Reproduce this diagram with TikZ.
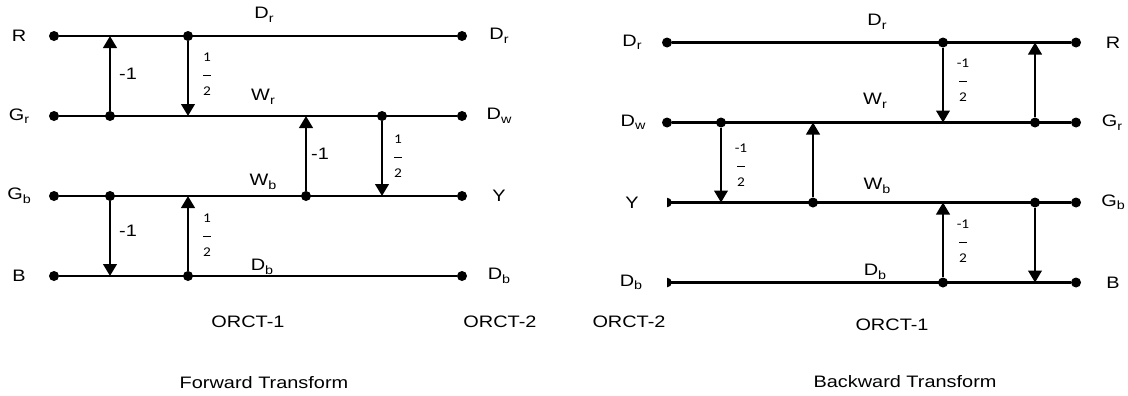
\documentclass[tikz,border=0pt]{standalone}
\usepackage{fontspec}
\setmainfont{Liberation Sans}[FakeStretch=1.2]
\newfontfamily\fracfont{Carlito}[FakeStretch=1.15]
\usetikzlibrary{arrows.meta}
\newcommand{\lsub}[1]{\raisebox{-0.4ex}{\fontsize{8.5}{8.5}\selectfont #1}}
\newcommand{\fbar}{\rule[0.45ex]{5.5pt}{0.6pt}}

\begin{document}
\begin{tikzpicture}[
        x=0.025cm, y=-0.025cm,
        wire/.style={line width=1.6pt},
        dot/.style={circle, fill=black, inner sep=0pt, minimum size=0.25cm},
        lift/.style={line width=1.6pt, -{Triangle[width=0.34cm, length=0.3cm]}},
        lab/.style={font=\fontsize{11.8}{13}\selectfont, inner sep=0pt},
        frac/.style={font=\fracfont\fontsize{9.5}{12.1}\selectfont, align=center, inner sep=0pt}
    ]
        \useasboundingbox (0,0) rectangle (1128,395);
        \node[dot] (fR) at (54,36) {};
        \node[dot] (fGr) at (54,116) {};
        \node[dot] (fGb) at (54,196) {};
        \node[dot] (fB) at (54,276) {};
        \node[dot] (fDr) at (462,36) {};
        \node[dot] (fDw) at (462,116) {};
        \node[dot] (fY) at (462,196) {};
        \node[dot] (fDb) at (462,276) {};
        \draw[wire] (fR) -- (fDr);
        \draw[wire] (fGr) -- (fDw);
        \draw[wire] (fGb) -- (fY);
        \draw[wire] (fB) -- (fDb);
        \node[lab] (fRt) at (19,36) {R};
        \node[lab] (fGrt) at (19,116) {G\lsub{r}};
        \node[lab] (fGbt) at (19,196) {G\lsub{b}};
        \node[lab] (fBt) at (19,276) {B};
        \node[lab] (fDrt) at (499,36) {D\lsub{r}};
        \node[lab] (fDwt) at (499,116) {D\lsub{w}};
        \node[lab] (fYt) at (499,196) {Y};
        \node[lab] (fDbt) at (499,276) {D\lsub{b}};
        \node[dot] (fu1) at (110,116) {};
        \coordinate (fu1e) at (110,36);
        \node[dot] (fu2) at (188,36) {};
        \coordinate (fu2e) at (188,116);
        \node[dot] (fu3) at (306,196) {};
        \coordinate (fu3e) at (306,116);
        \node[dot] (fu4) at (382,116) {};
        \coordinate (fu4e) at (382,196);
        \node[dot] (fu5) at (110,196) {};
        \coordinate (fu5e) at (110,276);
        \node[dot] (fu6) at (188,276) {};
        \coordinate (fu6e) at (188,196);
        \draw[lift] (fu1) -- (fu1e);
        \draw[lift] (fu2) -- (fu2e);
        \draw[lift] (fu3) -- (fu3e);
        \draw[lift] (fu4) -- (fu4e);
        \draw[lift] (fu5) -- (fu5e);
        \draw[lift] (fu6) -- (fu6e);
        \node[lab] (fw1) at (128,74) {-1};
        \node[frac] (fw2) at (207,74) {1\\\fbar\\2};
        \node[lab] (fw3) at (320,154) {-1};
        \node[frac] (fw4) at (398,156) {1\\\fbar\\2};
        \node[lab] (fw5) at (128,231) {-1};
        \node[frac] (fw6) at (207,235) {1\\\fbar\\2};
        \node[lab] (fsDr) at (264,15) {D\lsub{r}};
        \node[lab] (fsWr) at (263,97) {W\lsub{r}};
        \node[lab] (fsWb) at (263,182) {W\lsub{b}};
        \node[lab] (fsDb) at (262,267) {D\lsub{b}};
        \node[lab] (fo1) at (248,322) {ORCT-1};
        \node[lab] (fo2) at (500,322) {ORCT-2};
        \node[lab] (ftitle) at (264,383) {Forward Transform};
        \node[dot] (bDr) at (667,42.5) {};
        \node[dot] (bDw) at (667,122.5) {};
        \coordinate (bY) at (667,202.5);
        \coordinate (bDb) at (667,282.5);
        \fill (bY) ++(0,4.8) arc[start angle=-90, end angle=90, radius=0.12cm] -- cycle;
        \fill (bDb) ++(0,4.8) arc[start angle=-90, end angle=90, radius=0.12cm] -- cycle;
        \node[dot] (bR) at (1076,42.5) {};
        \node[dot] (bGr) at (1076,122.5) {};
        \node[dot] (bGb) at (1076,202.5) {};
        \node[dot] (bB) at (1076,282.5) {};
        \draw[wire] (bDr) -- (bR);
        \draw[wire] (bDw) -- (bGr);
        \draw[wire] (bY) -- (bGb);
        \draw[wire] (bDb) -- (bB);
        \node[lab] (bDrt) at (632,42.5) {D\lsub{r}};
        \node[lab] (bDwt) at (633,122.5) {D\lsub{w}};
        \node[lab] (bYt) at (632,202.5) {Y};
        \node[lab] (bDbt) at (631,282.5) {D\lsub{b}};
        \node[lab] (bRt) at (1113,42.5) {R};
        \node[lab] (bGrt) at (1112,122.5) {G\lsub{r}};
        \node[lab] (bGbt) at (1113,202.5) {G\lsub{b}};
        \node[lab] (bBt) at (1113,282.5) {B};
        \node[dot] (bu1) at (943,42.5) {};
        \coordinate (bu1e) at (943,122.5);
        \node[dot] (bu2) at (1035,122.5) {};
        \coordinate (bu2e) at (1035,42.5);
        \node[dot] (bu3) at (721,122.5) {};
        \coordinate (bu3e) at (721,202.5);
        \node[dot] (bu4) at (813,202.5) {};
        \coordinate (bu4e) at (813,122.5);
        \node[dot] (bu5) at (943,282.5) {};
        \coordinate (bu5e) at (943,202.5);
        \node[dot] (bu6) at (1035,202.5) {};
        \coordinate (bu6e) at (1035,282.5);
        \draw[lift] (bu1) -- (bu1e);
        \draw[lift] (bu2) -- (bu2e);
        \draw[lift] (bu3) -- (bu3e);
        \draw[lift] (bu4) -- (bu4e);
        \draw[lift] (bu5) -- (bu5e);
        \draw[lift] (bu6) -- (bu6e);
        \node[frac] (bw1) at (963,80) {-1\\\fbar\\2};
        \node[frac] (bw2) at (741,165) {-1\\\fbar\\2};
        \node[frac] (bw3) at (963,241) {-1\\\fbar\\2};
        \node[lab] (bsDr) at (877,22) {D\lsub{r}};
        \node[lab] (bsWr) at (875,101) {W\lsub{r}};
        \node[lab] (bsWb) at (877,186) {W\lsub{b}};
        \node[lab] (bsDb) at (875,272) {D\lsub{b}};
        \node[lab] (bo2) at (629,322) {ORCT-2};
        \node[lab] (bo1) at (892,325) {ORCT-1};
        \node[lab] (btitle) at (905,382) {Backward Transform};
    \end{tikzpicture}
\end{document}
